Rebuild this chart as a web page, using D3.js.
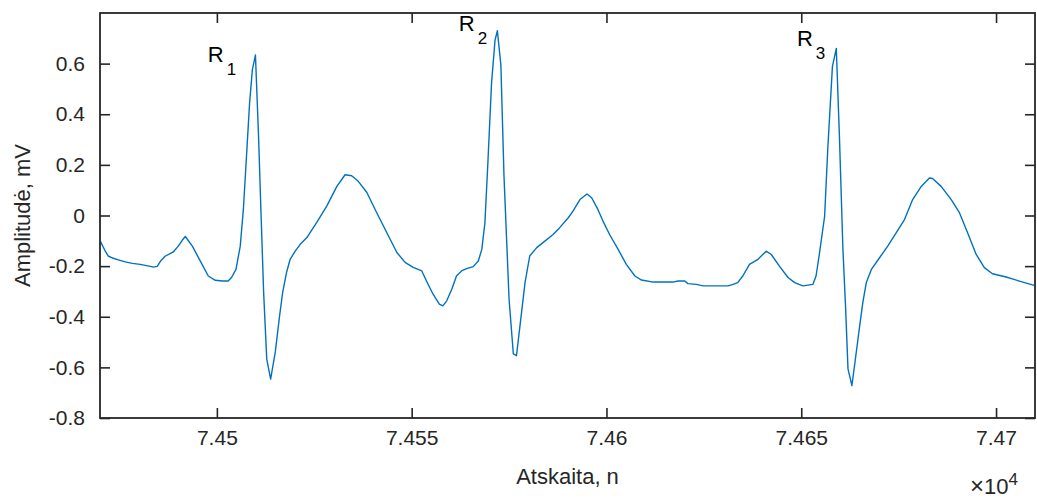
<!DOCTYPE html>
<html>
<head>
<meta charset="utf-8">
<script src="https://cdn.jsdelivr.net/npm/d3@7"></script>
<style>
  html, body { margin: 0; padding: 0; background: #fff; }
  svg { display: block; font-family: "Liberation Sans", Arial, sans-serif; }
</style>
</head>
<body>
<svg id="chart" width="1037" height="499"></svg>
<script>
// ---- data (sample index n, amplitude mV) ----
const sampleN = [74470.1,74471.4,74472.1,74473.4,74474.7,74476.5,74478.3,74480.3,74481.6,74482.9,
  74483.7,74484.7,74485.5,74486.7,74488.8,74490.1,74491.1,74491.9,74493.7,74496.2,
  74497.8,74499.6,74501.4,74502.9,74503.8,74504.9,74506.0,74506.8,74507.7,74508.4,
  74509.1,74509.9,74510.7,74511.3,74512.0,74512.8,74513.8,74515.0,74516.1,74516.9,
  74517.9,74518.8,74520.1,74521.4,74523.1,74525.6,74528.2,74530.8,74532.9,74534.6,
  74536.3,74538.5,74541.0,74543.6,74546.2,74548.3,74550.4,74552.6,74553.8,74555.5,
  74557.1,74558.0,74559.0,74560.3,74561.5,74562.8,74564.1,74565.8,74567.1,74568.0,
  74568.8,74569.6,74570.5,74571.4,74572.0,74572.9,74573.7,74574.4,74575.0,74576.1,
  74576.9,74577.8,74579.1,74580.3,74582.1,74583.7,74586.3,74588.0,74590.2,74591.4,
  74593.2,74595.0,74596.2,74597.8,74599.1,74600.8,74603.0,74605.1,74607.3,74609.0,
  74612.0,74617.1,74618.4,74620.1,74620.9,74623.1,74624.8,74631.2,74632.5,74633.7,
  74635.0,74636.7,74638.9,74641.0,74642.3,74644.4,74646.6,74648.3,74650.4,74653.0,
  74653.8,74654.7,74656.0,74656.8,74658.0,74659.0,74659.8,74660.7,74661.4,74662.0,
  74663.0,74663.9,74665.0,74665.8,74666.7,74668.0,74670.1,74672.2,74674.4,74676.5,
  74678.6,74680.8,74682.9,74683.7,74685.9,74688.5,74690.6,74692.7,74694.9,74697.0,
  74699.1,74702.6,74706.0,74709.8];
const amplitude = [-0.102,-0.142,-0.160,-0.169,-0.175,-0.183,-0.189,-0.193,-0.197,-0.201,
  -0.204,-0.201,-0.181,-0.161,-0.144,-0.121,-0.098,-0.083,-0.121,-0.193,
  -0.239,-0.256,-0.259,-0.259,-0.244,-0.213,-0.121,0.024,0.260,0.445,
  0.575,0.634,0.312,0.024,-0.303,-0.567,-0.646,-0.539,-0.396,-0.303,
  -0.224,-0.173,-0.141,-0.114,-0.087,-0.028,0.037,0.115,0.161,0.157,
  0.135,0.091,0.012,-0.067,-0.146,-0.185,-0.205,-0.219,-0.259,-0.311,
  -0.350,-0.357,-0.337,-0.291,-0.239,-0.219,-0.210,-0.202,-0.180,-0.134,
  -0.029,0.220,0.522,0.693,0.730,0.594,0.155,-0.106,-0.331,-0.547,
  -0.554,-0.436,-0.265,-0.160,-0.127,-0.107,-0.075,-0.048,-0.009,0.017,
  0.063,0.085,0.070,0.024,-0.022,-0.075,-0.134,-0.193,-0.239,-0.255,
  -0.263,-0.263,-0.259,-0.259,-0.269,-0.272,-0.278,-0.278,-0.272,-0.265,
  -0.239,-0.193,-0.173,-0.141,-0.154,-0.200,-0.245,-0.265,-0.278,-0.272,
  -0.239,-0.147,-0.003,0.260,0.588,0.660,0.312,-0.134,-0.370,-0.606,
  -0.672,-0.567,-0.436,-0.344,-0.265,-0.213,-0.167,-0.121,-0.068,-0.016,
  0.063,0.115,0.148,0.146,0.115,0.063,0.011,-0.068,-0.154,-0.206,
  -0.230,-0.243,-0.259,-0.276];

const xTicks = [74500, 74550, 74600, 74650, 74700];
const xTickLabels = ["7.45", "7.455", "7.46", "7.465", "7.47"];
const yTicks = [-0.8, -0.6, -0.4, -0.2, 0, 0.2, 0.4, 0.6];
const yTickLabels = ["-0.8", "-0.6", "-0.4", "-0.2", "0", "0.2", "0.4", "0.6"];
const xDomain = [74470, 74710];
const yDomain = [-0.8, 0.8];

// peak labels: R1, R2, R3 anchored at n / mV
const peakNames = ["R", "R", "R"];
const peakSubs = ["1", "2", "3"];
const peakN = [74498.2, 74562.6, 74649.4];
const peakV = [0.605, 0.73, 0.67];

const xLabel = "Atskaita, n";
const yLabel = "Amplitudė, mV";

// ---- layout ----
const svg = d3.select("#chart");
const L = 100, R = 1035, T = 13, B = 418;
const axisColor = "#262626";
const x = d3.scaleLinear().domain(xDomain).range([L, R]);
const y = d3.scaleLinear().domain(yDomain).range([B, T]);

const tickLen = 10;
const fontSize = 21;
const labelSize = 22;

// bottom axis
const gB = svg.append("g").attr("transform", `translate(0,${B})`)
  .call(d3.axisBottom(x).tickValues(xTicks).tickFormat((d, i) => xTickLabels[i])
    .tickSizeInner(-tickLen).tickSizeOuter(0).tickPadding(12));
// top axis
const gT = svg.append("g").attr("transform", `translate(0,${T})`)
  .call(d3.axisTop(x).tickValues(xTicks).tickFormat("").tickSizeInner(-tickLen).tickSizeOuter(0));
// left axis
const gL = svg.append("g").attr("transform", `translate(${L},0)`)
  .call(d3.axisLeft(y).tickValues(yTicks).tickFormat((d, i) => yTickLabels[i])
    .tickSizeInner(-tickLen).tickSizeOuter(0).tickPadding(15));
// right axis
const gR = svg.append("g").attr("transform", `translate(${R},0)`)
  .call(d3.axisRight(y).tickValues(yTicks).tickFormat("").tickSizeInner(-tickLen).tickSizeOuter(0));

[gB, gT, gL, gR].forEach(g => {
  g.selectAll("path.domain").remove();
  g.selectAll("line").attr("stroke", axisColor).attr("stroke-width", 1.6);
  g.selectAll("text").attr("fill", axisColor).style("font-size", fontSize + "px")
    .style("font-family", "'Liberation Sans', Arial, sans-serif");
});

// data line
const line = d3.line().x((d, i) => x(sampleN[i])).y((d, i) => y(amplitude[i]));
svg.append("path").datum(amplitude)
  .attr("d", line).attr("fill", "none")
  .attr("stroke", "#0072BD").attr("stroke-width", 1.4).attr("stroke-linejoin", "round");

// frame
svg.append("rect").attr("x", L).attr("y", T).attr("width", R - L).attr("height", B - T)
  .attr("fill", "none").attr("stroke", axisColor).attr("stroke-width", 1.8);

// peak labels
peakNames.forEach((nm, i) => {
  const t = svg.append("text")
    .attr("x", x(peakN[i]) - 2).attr("y", y(peakV[i]))
    .attr("fill", "#000").style("font-size", "22px");
  t.append("tspan").text(nm);
  t.append("tspan").attr("dx", 3).attr("dy", 13).style("font-size", "17px").text(peakSubs[i]);
});

// axis labels
svg.append("text").attr("x", (L + R) / 2).attr("y", 484)
  .attr("text-anchor", "middle").attr("fill", axisColor).style("font-size", labelSize + "px")
  .text(xLabel);
svg.append("text").attr("transform", `translate(30,${(T + B) / 2}) rotate(-90)`)
  .attr("text-anchor", "middle").attr("fill", axisColor).style("font-size", labelSize + "px")
  .text(yLabel);

// exponent multiplier
const ex = svg.append("text").attr("x", 970).attr("y", 494).attr("fill", axisColor)
  .style("font-size", "22px");
ex.append("tspan").style("font-size", "24px").text("\u00D7");
ex.append("tspan").attr("dx", 0).text("10");
ex.append("tspan").attr("dy", -9).style("font-size", "17px").text("4");
</script>
</body>
</html>
